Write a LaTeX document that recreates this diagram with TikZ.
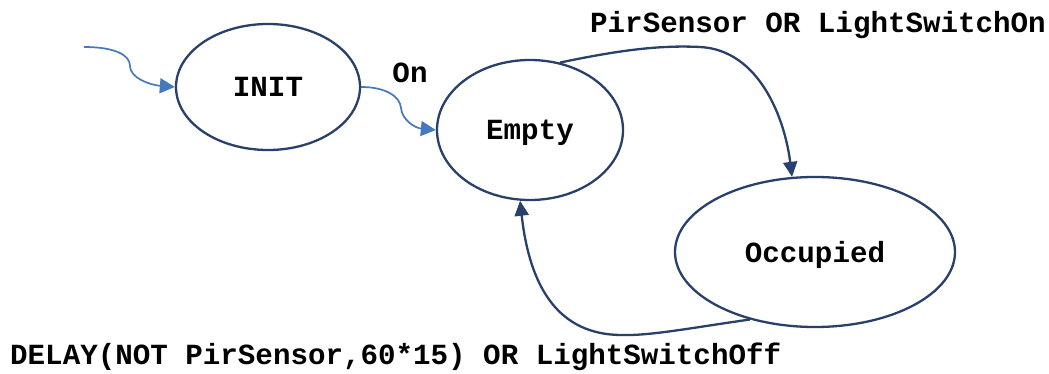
\documentclass[tikz,border=0pt]{standalone}
\usepackage{fontspec}
\setmainfont{Liberation Mono}
\usetikzlibrary{shapes.geometric,arrows.meta}
\definecolor{navy}{RGB}{40,64,106}
\definecolor{initblue}{RGB}{70,120,190}
\begin{document}
\begin{tikzpicture}[x=1pt,y=-1pt,
  state/.style={ellipse,draw=navy,line width=2.3pt,inner sep=0pt,
    text height=22pt,text depth=2pt,
    font=\fontsize{29.2}{31}\selectfont\bfseries},
  lbl/.style={font=\fontsize{29.2}{31}\selectfont\bfseries,inner sep=0pt},
  trans/.style={draw=navy,line width=2.3pt,-{Triangle[length=15pt,width=14pt]}},
  entry/.style={draw=initblue,line width=1.7pt,-{Triangle[length=15pt,width=15pt]}}]
\useasboundingbox (0,0) rectangle (1049,374);

% states
\node[state,minimum width=184pt,minimum height=126pt] (init) at (268,87) {INIT};
\node[state,minimum width=186pt,minimum height=140pt] (empty) at (530,130) {Empty};
\node[state,minimum width=280pt,minimum height=150pt] (occ) at (815,252) {Occupied};

% entry into the initial state
\coordinate (start) at (84,47);
\draw[entry] (start) .. controls (115,47) and (130,55) .. (130,66)
  .. controls (130,78) and (150,85) .. (init.west);

% INIT -> Empty
\draw[entry] (init.east) .. controls (385,87) and (400,96) .. (401,108)
  .. controls (402,120) and (415,128) .. (empty.west);
\node[lbl] (on) at (410,73) {On};

% Empty -> Occupied
\draw[trans] (empty.66) .. controls (620,50) and (660,45) .. (700,47)
  .. controls (760,50) and (785,120) .. (occ.107);
\node[lbl,anchor=west] (lblon) at (590,25) {PirSensor OR LightSwitchOn};

% Occupied -> Empty
\draw[trans] (occ.-134) .. controls (690,328) and (650,336) .. (620,335)
  .. controls (560,334) and (530,290) .. (empty.-98);
\node[lbl,anchor=west] (lbloff) at (10,357) {DELAY(NOT PirSensor,60*15) OR LightSwitchOff};
\end{tikzpicture}
\end{document}
